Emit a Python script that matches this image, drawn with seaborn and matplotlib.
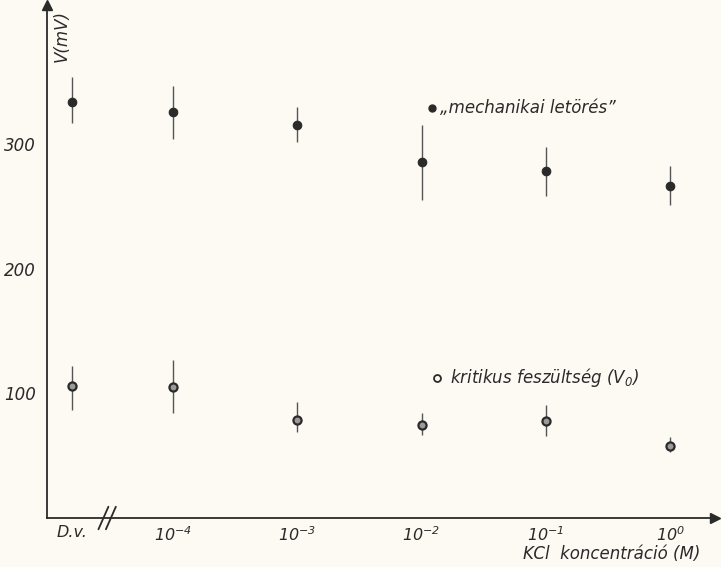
import numpy as np
import pandas as pd
import matplotlib
matplotlib.use("Agg")
import matplotlib.pyplot as plt
import seaborn as sns

# ---- data ----
categories = ["D.v.", "$10^{-4}$", "$10^{-3}$", "$10^{-2}$", "$10^{-1}$", "$10^{0}$"]
log_conc = [-4.81, -4, -3, -2, -1, 0]          # D.v. (distilled water) sits left of the axis break

mech_mean = [334, 326, 316, 286, 279, 267]
mech_low = [317, 304, 302, 255, 259, 251]
mech_high = [354, 347, 330, 316, 298, 283]

krit_mean = [106, 105, 79, 75, 78, 58]
krit_low = [87, 84, 69, 67, 66, 53]
krit_high = [122, 127, 93, 84, 91, 65]

yticks = [100, 200, 300]

ink = "#2a2a2a"
bg = "#fcfaf2"

sns.set_theme(style="white")
plt.rcParams["font.family"] = ["DejaVu Sans"]
plt.rcParams["font.style"] = "italic"
plt.rcParams["mathtext.default"] = "it"

fig = plt.figure(figsize=(7.21, 5.67), dpi=100, facecolor=bg)
ax = fig.add_axes([0.0652, 0.0864, 0.9265, 0.9048])
ax.set_facecolor(bg)

df = pd.DataFrame({
    "x": log_conc * 2,
    "v": mech_mean + krit_mean,
    "series": ["mech"] * 6 + ["krit"] * 6,
})

# error bars
ax.vlines(log_conc, mech_low, mech_high, color="#555555", lw=1.0, zorder=2)
ax.vlines(log_conc, krit_low, krit_high, color="#555555", lw=1.0, zorder=2)

sns.scatterplot(data=df[df.series == "mech"], x="x", y="v", ax=ax, color=ink,
                s=38, edgecolor=ink, linewidth=0.8, zorder=3, legend=False)
sns.scatterplot(data=df[df.series == "krit"], x="x", y="v", ax=ax, color="#9a9a9a",
                s=34, edgecolor=ink, linewidth=1.6, zorder=3, legend=False)

ax.set_xlim(-5.014, 0.362)
ax.set_ylim(0, 412)
ax.set_xlabel("")
ax.set_ylabel("")

ax.set_xticks(log_conc)
ax.set_xticklabels(categories, fontsize=11.5, style="italic", color=ink)
ax.set_yticks(yticks)
ax.set_yticklabels([str(t) for t in yticks], fontsize=12, style="italic", color=ink)
ax.tick_params(axis="both", direction="out", length=5, width=1, color=ink, pad=3)
ax.tick_params(axis="x", length=4, pad=1)

for side in ["top", "right"]:
    ax.spines[side].set_visible(False)
for side in ["left", "bottom"]:
    ax.spines[side].set_color(ink)
    ax.spines[side].set_linewidth(1.3)

# axis arrows
ax.plot(1, 0, ">", color=ink, ms=7, transform=ax.transAxes, clip_on=False)
ax.plot(0, 1, "^", color=ink, ms=7, transform=ax.transAxes, clip_on=False)

# axis break marks
trans = ax.get_xaxis_transform()
for dx in (-0.06, 0.0):
    xb = -4.50 + dx
    ax.plot([xb - 0.04, xb + 0.04], [-0.022, 0.022], color=ink, lw=1.3,
            transform=trans, clip_on=False)

# labels
ax.text(0.022, 0.94, "V(mV)", rotation=90, ha="center", va="center",
        fontsize=12, style="italic", color=ink, transform=ax.transAxes)
ax.text(0.846, -0.052, "KCl  koncentráció (M)", ha="center", va="top",
        fontsize=12, style="italic", color=ink, transform=ax.transAxes, clip_on=False)

# in-plot key
ax.plot([0.576], [0.799], "o", color=ink, ms=5, transform=ax.transAxes)
ax.text(0.589, 0.799, "„mechanikai letörés”", ha="left", va="center",
        fontsize=12, style="italic", color=ink, transform=ax.transAxes)
ax.plot([0.584], [0.273], "o", mfc="none", mec=ink, mew=1.3, ms=5, transform=ax.transAxes)
ax.text(0.603, 0.273, "kritikus feszültség (V$_0$)", ha="left", va="center",
        fontsize=12, style="italic", color=ink, transform=ax.transAxes)

fig.savefig("out.png", dpi=100, facecolor=bg)
